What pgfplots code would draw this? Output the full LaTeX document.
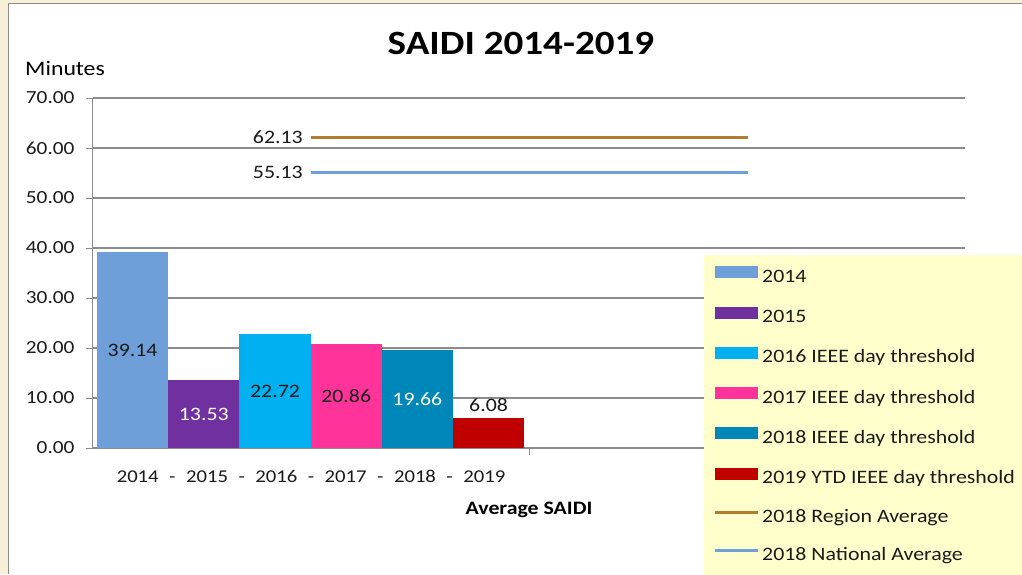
\documentclass[border=0pt]{standalone}
\usepackage{pgfplots}
\pgfplotsset{compat=1.18}
\usepackage{fontspec}
\setmainfont{Carlito}[FakeStretch=1.15]
\definecolor{cA}{HTML}{6E9FD9}
\definecolor{cB}{HTML}{7030A0}
\definecolor{cC}{HTML}{00B0F0}
\definecolor{cD}{HTML}{FF3399}
\definecolor{cE}{HTML}{0087B9}
\definecolor{cF}{HTML}{C00000}
\definecolor{cRegion}{HTML}{B37C2E}
\definecolor{cNation}{HTML}{6FA0DC}
\definecolor{legbg}{HTML}{FFFFCC}
\definecolor{frame}{HTML}{F8EFD9}
\definecolor{axisgray}{HTML}{8C8C8C}
\definecolor{txt}{HTML}{1A1A1A}
\pgfplotsset{
  barlegend/.style={legend image code/.code={\fill[##1] (0pt,-1pt) rectangle (43pt,11pt);}},
  linelegend/.style={legend image code/.code={\draw[##1] (0pt,5pt) -- (43pt,5pt);}},
}
\begin{document}
\begin{tikzpicture}[x=1pt,y=1pt]
\clip (0,0) rectangle (1022,574);
\fill[frame] (0,0) rectangle (1022,574);
\fill[white] (8,0) rectangle (1022,570);
\draw[axisgray, line width=1pt] (8,0) -- (8,570) -- (1022,570);
\node[anchor=base, font=\fontsize{34}{40}\selectfont\bfseries, text=black] at (521,519) {SAIDI 2014-2019};
\node[anchor=base west, font=\fontsize{20.7}{24}\selectfont, text=black, inner sep=0pt] at (25,498) {Minutes};
\begin{axis}[
  scale only axis,
  width=872pt, height=350pt,
  at={(93pt,126pt)}, anchor=south west,
  xmin=0, xmax=872, ymin=0, ymax=70,
  axis x line*=bottom, axis y line*=left,
  x axis line style={draw=none},
  y axis line style={draw=axisgray, line width=1pt, -},
  ytick={0,10,...,70},
  ymajorgrids,
  grid style={axisgray, line width=1.2pt},
  tick align=outside,
  major tick length=7pt,
  ytick style={draw=axisgray, line width=1pt},
  yticklabel style={/pgf/number format/fixed, /pgf/number format/precision=2, /pgf/number format/fixed zerofill, /pgf/number format/assume math mode=true, font=\fontsize{18.5}{22}\selectfont, text=txt, xshift=-8pt},
  xtick={218},
  xticklabels={2014\hspace{10.5pt}-\hspace{10.5pt}2015\hspace{10.5pt}-\hspace{10.5pt}2016\hspace{10.5pt}-\hspace{10.5pt}2017\hspace{10.5pt}-\hspace{10.5pt}2018\hspace{10.5pt}-\hspace{10.5pt}2019},
  xtick style={draw=none},
  xticklabel style={font=\fontsize{18}{22}\selectfont, text=txt, yshift=-12pt},
  extra x ticks={436},
  extra x tick labels={},
  extra x tick style={xtick style={draw=axisgray, line width=1pt}},
  xlabel={Average SAIDI},
  xlabel style={font=\fontsize{19}{22}\selectfont\bfseries, text=black, yshift=2pt},
  legend style={at={(0.7007,0.5514)}, anchor=north west, fill=legbg, draw=none,
    inner xsep=9pt, inner ysep=11pt, row sep=20.3pt, column sep=0pt,
    font=\fontsize{19}{22}\selectfont,
    nodes={inner sep=0pt, text height=14pt, text depth=4pt, text=txt}},
  legend cell align=left,
  legend columns=1,
  clip=false,
]
\addplot[ybar, bar width=71.2, bar shift=0pt, fill=cA, draw=none, barlegend] coordinates {(39.6,39.14)};
\addlegendentry{\hspace{3pt}2014}
\addplot[ybar, bar width=71.2, bar shift=0pt, fill=cB, draw=none, barlegend] coordinates {(110.8,13.53)};
\addlegendentry{\hspace{3pt}2015}
\addplot[ybar, bar width=71.2, bar shift=0pt, fill=cC, draw=none, barlegend] coordinates {(182,22.72)};
\addlegendentry{\hspace{3pt}2016 IEEE day threshold}
\addplot[ybar, bar width=71.2, bar shift=0pt, fill=cD, draw=none, barlegend] coordinates {(253.2,20.86)};
\addlegendentry{\hspace{3pt}2017 IEEE day threshold}
\addplot[ybar, bar width=71.2, bar shift=0pt, fill=cE, draw=none, barlegend] coordinates {(324.4,19.66)};
\addlegendentry{\hspace{3pt}2018 IEEE day threshold}
\addplot[ybar, bar width=71.2, bar shift=0pt, fill=cF, draw=none, barlegend] coordinates {(395.6,6.08)};
\addlegendentry{\hspace{3pt}2019 YTD IEEE day threshold}
\addplot[cRegion, line width=3pt, linelegend] coordinates {(218,62.13) (655,62.13)};
\addlegendentry{\hspace{3pt}2018 Region Average}
\addplot[cNation, line width=3pt, linelegend] coordinates {(218,55.13) (655,55.13)};
\addlegendentry{\hspace{3pt}2018 National Average}
\begin{scope}[every node/.style={font=\fontsize{19}{22}\selectfont, inner sep=0pt}]
\node[text=txt] at (axis cs:39.6,19.57) {39.14};
\node[text=white] at (axis cs:110.8,6.77) {13.53};
\node[text=txt] at (axis cs:182,11.36) {22.72};
\node[text=txt] at (axis cs:253.2,10.43) {20.86};
\node[text=white] at (axis cs:324.4,9.83) {19.66};
\node[text=txt, anchor=south] at (axis cs:395.6,7.3) {6.08};
\node[text=txt, anchor=east] at (axis cs:210,62.13) {62.13};
\node[text=txt, anchor=east] at (axis cs:210,55.13) {55.13};
\end{scope}
\end{axis}
\end{tikzpicture}
\end{document}
